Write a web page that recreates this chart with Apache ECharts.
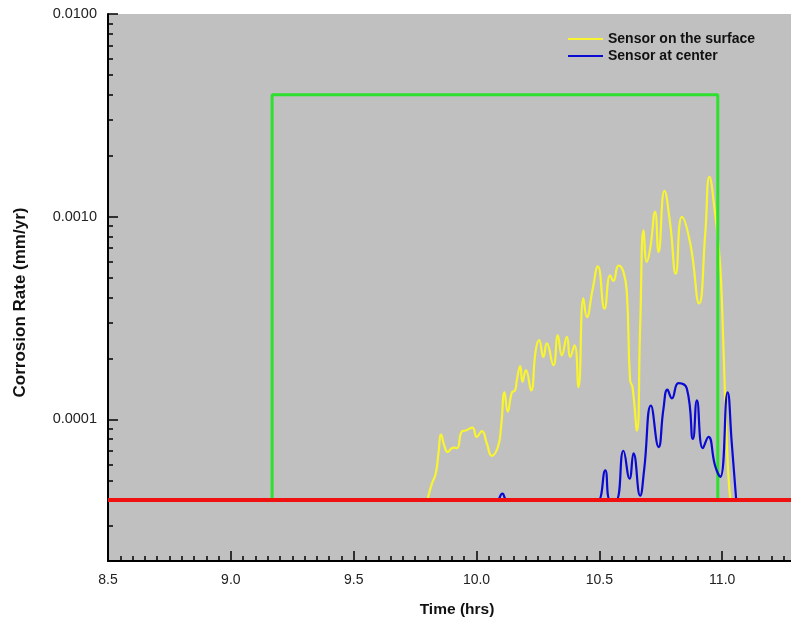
<!DOCTYPE html>
<html><head><meta charset="utf-8">
<script src="https://cdn.jsdelivr.net/npm/echarts@6/dist/echarts.min.js"></script>
<style>html,body{margin:0;padding:0;background:#fff}#c{width:791px;height:623px}</style>
</head><body><div id="c"></div>
<script>
// ---- data ----
const seriesNames = ['Sensor on the surface', 'Sensor at center'];
const yellowT = [9.80, 9.818, 9.834, 9.845, 9.856, 9.869, 9.883, 9.899, 9.910, 9.921, 9.940, 9.956, 9.983, 10.001, 10.022, 10.042, 10.062, 10.087, 10.100, 10.114, 10.127, 10.144, 10.157, 10.164, 10.178, 10.187, 10.201, 10.222, 10.241, 10.255, 10.272, 10.286, 10.313, 10.331, 10.347, 10.368, 10.381, 10.399, 10.415, 10.435, 10.449, 10.472, 10.494, 10.521, 10.544, 10.557, 10.578, 10.598, 10.612, 10.625, 10.635, 10.653, 10.666, 10.680, 10.693, 10.707, 10.727, 10.741, 10.765, 10.788, 10.811, 10.836, 10.870, 10.906, 10.931, 10.948, 10.971, 10.990, 11.000, 11.012, 11.024, 11.033];
const yellowV = [4.0e-5, 4.8e-5, 5.4e-5, 6.8e-5, 8.4e-5, 7.4e-5, 6.9e-5, 7.2e-5, 7.25e-5, 7.2e-5, 8.7e-5, 8.8e-5, 9.1e-5, 8.2e-5, 8.75e-5, 7.6e-5, 6.6e-5, 7.3e-5, 9.2e-5, 1.36e-4, 1.09e-4, 1.36e-4, 1.39e-4, 1.56e-4, 1.83e-4, 1.53e-4, 1.75e-4, 1.39e-4, 2.19e-4, 2.46e-4, 2.03e-4, 2.37e-4, 1.85e-4, 2.60e-4, 2.07e-4, 2.55e-4, 2.03e-4, 2.32e-4, 1.44e-4, 3.95e-4, 3.20e-4, 4.34e-4, 5.69e-4, 3.52e-4, 5.14e-4, 4.82e-4, 5.73e-4, 5.34e-4, 4.18e-4, 1.56e-4, 1.44e-4, 8.8e-5, 2.86e-4, 8.58e-4, 5.98e-4, 6.97e-4, 1.056e-3, 6.70e-4, 1.341e-3, 9.26e-4, 5.24e-4, 9.98e-4, 7.37e-4, 3.73e-4, 8.26e-4, 1.572e-3, 1.037e-3, 6.10e-4, 3.45e-4, 1.24e-4, 5.6e-5, 4.0e-5];
const blueT = [10.05, 10.084, 10.105, 10.125, 10.48, 10.496, 10.524, 10.544, 10.568, 10.598, 10.623, 10.639, 10.666, 10.682, 10.710, 10.741, 10.761, 10.777, 10.795, 10.822, 10.856, 10.881, 10.897, 10.921, 10.944, 10.971, 10.992, 11.022, 11.039, 11.057];
const blueV = [4.0e-5, 4.0e-5, 4.3e-5, 4.0e-5, 4.0e-5, 4.0e-5, 5.6e-5, 4.0e-5, 4.0e-5, 7.0e-5, 5.1e-5, 6.8e-5, 4.2e-5, 5.6e-5, 1.17e-4, 7.3e-5, 1.13e-4, 1.40e-4, 1.27e-4, 1.51e-4, 1.42e-4, 8.0e-5, 1.24e-4, 7.2e-5, 8.2e-5, 5.9e-5, 5.2e-5, 1.36e-4, 7.6e-5, 4.0e-5];
const greenT = [9.168, 9.168, 10.982, 10.982];
const greenV = [4.0e-5, 4.0e-3, 4.0e-3, 4.0e-5];
const thresholdT = [8.5, 11.28];
const thresholdV = [4.0e-5, 4.0e-5];
const xTickLabels = [8.5, 9.0, 9.5, 10.0, 10.5, 11.0];
const yTickLabels = [0.0001, 0.0010, 0.0100];
const X_MIN = 8.5, X_MAX = 11.28, Y_MIN = 2e-5, Y_MAX = 0.01;

// minor ticks (axis decoration)
const xMinor = [];
for (let i = 1; i <= 55; i++) { const v = +(8.5 + i * 0.05).toFixed(2); if (i % 10 !== 0) xMinor.push(v); }
const yMinor = [];
[1e-5, 1e-4, 1e-3].forEach(d => { for (let k = 2; k <= 9; k++) { const v = +(k * d).toPrecision(3); if (v >= Y_MIN) yMinor.push(v); } });

const zip = (a, b) => a.map((t, i) => [t, b[i]]);
const font = '"Liberation Sans", Arial, sans-serif';

const chart = echarts.init(document.getElementById('c'), null, { renderer: 'canvas' });
const option = {
  animation: false,
  backgroundColor: '#ffffff',
  textStyle: { fontFamily: font },
  grid: { left: 108, top: 14, right: 0, bottom: 61, show: true, backgroundColor: '#c0c0c0', borderWidth: 0 },
  legend: {
    data: seriesNames, orient: 'vertical', left: 568, top: 31, padding: 0, itemWidth: 35, itemHeight: 2, itemGap: 1,
    icon: 'rect', textStyle: { fontFamily: font, fontWeight: 'bold', fontSize: 14, color: '#111', lineHeight: 16 }
  },
  xAxis: [
    {
      type: 'value', min: X_MIN, max: X_MAX, position: 'bottom',
      axisLine: { onZero: false, lineStyle: { color: '#000', width: 2 } },
      axisTick: { inside: true, length: 10, customValues: xTickLabels, lineStyle: { color: '#000', width: 1.5 } },
      axisLabel: { customValues: xTickLabels, formatter: v => v.toFixed(1), margin: 12, color: '#222', fontSize: 14, fontFamily: font },
      splitLine: { show: false },
      name: 'Time (hrs)', nameLocation: 'middle', nameGap: 41,
      nameTextStyle: { fontWeight: 'bold', fontSize: 15.5, color: '#111', fontFamily: font, padding: [0, 0, 0, 15] }
    },
    {
      type: 'value', min: X_MIN, max: X_MAX, position: 'bottom',
      axisLine: { show: false, onZero: false },
      axisTick: { inside: true, length: 5, customValues: xMinor, lineStyle: { color: '#000', width: 1.5 } },
      axisLabel: { show: false }, splitLine: { show: false }
    }
  ],
  yAxis: [
    {
      type: 'log', logBase: 10, min: Y_MIN, max: Y_MAX, position: 'left',
      axisLine: { lineStyle: { color: '#000', width: 2 } },
      axisTick: { inside: true, length: 10, customValues: yTickLabels, lineStyle: { color: '#000', width: 1.5 } },
      axisLabel: { customValues: yTickLabels, formatter: v => Number(v).toFixed(4), margin: 11, color: '#222', fontSize: 14.5, fontFamily: font },
      splitLine: { show: false }, minorTick: { show: false },
      name: 'Corrosion Rate (mm/yr)', nameLocation: 'middle', nameGap: 79, nameRotate: 90,
      nameTextStyle: { fontWeight: 'bold', fontSize: 17, color: '#111', fontFamily: font, padding: [0, 30, 0, 0] }
    },
    {
      type: 'log', logBase: 10, min: Y_MIN, max: Y_MAX, position: 'left',
      axisLine: { show: false },
      axisTick: { inside: true, length: 5, customValues: yMinor, lineStyle: { color: '#000', width: 1.5 } },
      axisLabel: { show: false }, splitLine: { show: false }
    }
  ],
  series: [
    { name: seriesNames[0], type: 'line', data: zip(yellowT, yellowV), smooth: 0.5, showSymbol: false, symbol: 'none',
      lineStyle: { color: '#f8f530', width: 2.2 }, itemStyle: { color: '#f8f530' }, z: 2 },
    { name: 'window', type: 'line', data: zip(greenT, greenV), showSymbol: false, symbol: 'none',
      lineStyle: { color: '#2ee02e', width: 3 }, z: 3 },
    { name: seriesNames[1], type: 'line', data: zip(blueT, blueV), smooth: 0.5, showSymbol: false, symbol: 'none',
      lineStyle: { color: '#0a0ad2', width: 2.2 }, itemStyle: { color: '#0a0ad2' }, z: 4 },
    { name: 'threshold', type: 'line', data: zip(thresholdT, thresholdV), showSymbol: false, symbol: 'none',
      lineStyle: { color: '#f01010', width: 4 }, z: 5 }
  ]
};
chart.setOption(option);
</script>
</body></html>
